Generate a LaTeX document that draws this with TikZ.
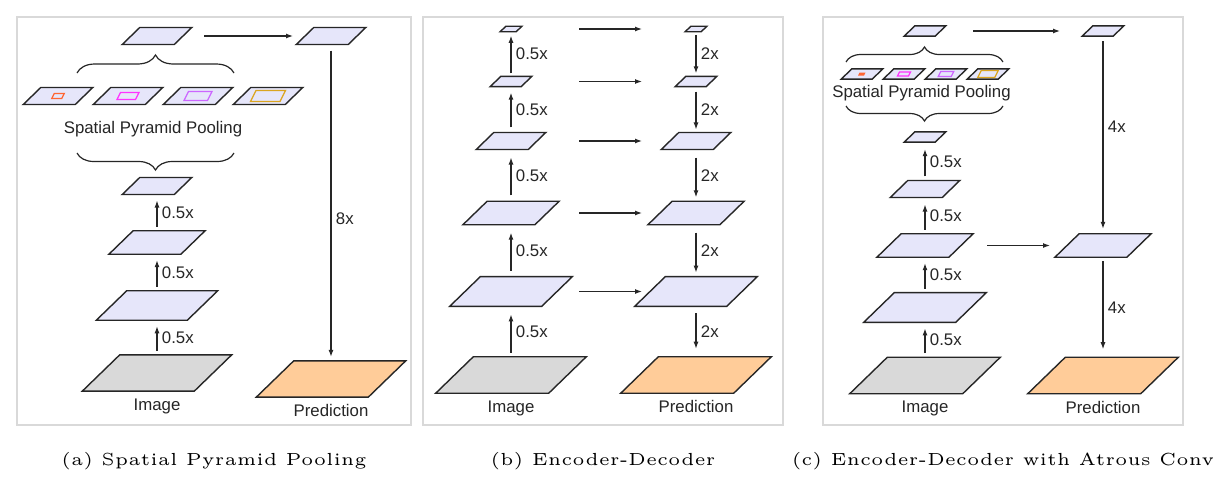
\documentclass[tikz,border=0pt]{standalone}
\usepackage{fontspec}
\setsansfont{Liberation Sans}
\newfontfamily\capfont{lmroman5-regular.otf}[LetterSpace=2]
\usetikzlibrary{arrows.meta}
\usetikzlibrary{calc}
\usetikzlibrary{positioning}
\usetikzlibrary{decorations.pathreplacing}
\definecolor{maplav}{HTML}{E6E6FA}
\definecolor{mapgray}{HTML}{D9D9D9}
\definecolor{mappeach}{HTML}{FFCC99}
\definecolor{poolA}{HTML}{FF6633}
\definecolor{poolB}{HTML}{FF33FF}
\definecolor{poolC}{HTML}{CC66FF}
\definecolor{poolD}{HTML}{DAA520}
\definecolor{framegray}{HTML}{D9D9D9}
\definecolor{ink}{HTML}{262626}
% feature map: [fill]{name}{x}{y}{width}
\newcommand{\fmap}[5][maplav]{%
	\node[inner sep=0pt, minimum width=#5*1.33pt, minimum height=#5*0.32pt] (#2) at (#3,#4) {};
	\filldraw[mapline, fill=#1] (#2.south west) -- ++(#5,0) -- (#2.north east) -- ++(-#5,0) -- cycle;
}
% pooling window inside a map: {map}{colour}{width}{height}
\newcommand{\pool}[4]{%
	\draw[line width=1.3pt, draw=#2] ($(#1)+({-#3/2-#4/4},{#4/2})$) -- ++(#3,0) -- ++({#4/2},{-#4}) -- ++({-#3},0) -- cycle;
}
\tikzset{
	mapline/.style={line width=1.4pt, draw=ink},
	flow/.style={line width=1.2pt, draw=ink, -{Latex[length=7pt,width=5pt]}},
	txt/.style={text=ink, font=\sffamily\fontsize{16.8}{20}\selectfont},
	lbl/.style={txt, right=1pt, midway},
	panel/.style={line width=1.3pt, draw=framegray},
	caption/.style={font=\capfont\fontsize{17.5}{20}\selectfont, text=black},
	brc/.style={decorate, decoration={brace, amplitude=#1}, line width=1.2pt, draw=ink},
}
\begin{document}
\begin{tikzpicture}[x=1pt, y=-1pt]
				\useasboundingbox[fill=white] (0,0) rectangle (1218,482);
				\draw[panel] (17,17) rectangle (411,425);
				\draw[panel] (423,17) rectangle (783,425);
				\draw[panel] (823,17) rectangle (1183,425);
		
				% (a) spatial pyramid pooling
				\fmap{atop}{157}{36}{52}
				\fmap{aout}{331}{36}{52}
				\fmap{sppa1}{58}{96}{52}
				\fmap{sppa2}{128}{96}{52}
				\fmap{sppa3}{198}{96}{52}
				\fmap{sppa4}{268}{96}{52}
				\pool{sppa1}{poolA}{10}{5}
				\pool{sppa2}{poolB}{18.5}{7}
				\pool{sppa3}{poolC}{23.5}{9}
				\pool{sppa4}{poolD}{29.5}{11}
				\fmap{a4}{157}{186}{52}
				\fmap{a3}{157}{242.5}{72}
				\fmap{a2}{157}{305.5}{91}
				\fmap[mapgray]{a1}{157}{373}{112}
				\fmap[mappeach]{apred}{331}{379}{112}
		
				\draw[brc=18pt] (77,73) -- (234,73);
				\draw[brc=17pt] (234,153) -- (77,153);
				\node[txt] (sppa) at (153,129) {Spatial Pyramid Pooling};
		
				\draw[flow, shorten <=4pt, shorten >=6pt] (a1.north) -- (a2.south) node[lbl] {0.5x};
				\draw[flow, shorten <=4pt, shorten >=6pt] (a2.north) -- (a3.south) node[lbl] {0.5x};
				\draw[flow, shorten <=4pt, shorten >=6pt] (a3.north) -- (a4.south) node[lbl] {0.5x};
				\draw[flow, shorten <=47pt, shorten >=38pt] (atop.center) -- (aout.center);
				\draw[flow, shorten <=6pt, shorten >=4pt] (aout.south) -- (apred.north) node[lbl, pos=0.55] {8x};
		
				\node[txt, below=4pt of a1] (imga) {Image};
				\node[txt, below=4pt of apred] (preda) {Prediction};
				\node[caption] (capa) at (214,461) {(a) Spatial Pyramid Pooling};
		
				% (b) encoder-decoder
				\fmap{b5}{511}{29}{16}
				\fmap{b4}{511}{81.5}{31}
				\fmap{b3}{511}{141}{52}
				\fmap{b2}{511}{213}{72}
				\fmap{b1}{511}{291.5}{92}
				\fmap[mapgray]{b0}{511}{375}{113}
				\fmap{r5}{696}{29}{16}
				\fmap{r4}{696}{81.5}{31}
				\fmap{r3}{696}{141}{52}
				\fmap{r2}{696}{213}{72}
				\fmap{r1}{696}{291.5}{92}
				\fmap[mappeach]{bpred}{696}{375}{113}
		
				\draw[flow, shorten <=4pt, shorten >=8pt] (b0.north) -- (b1.south) node[lbl] {0.5x};
				\draw[flow, shorten <=6pt, shorten >=8pt] (b1.north) -- (b2.south) node[lbl] {0.5x};
				\draw[flow, shorten <=6pt, shorten >=8pt] (b2.north) -- (b3.south) node[lbl] {0.5x};
				\draw[flow, shorten <=5pt, shorten >=6pt] (b3.north) -- (b4.south) node[lbl] {0.5x};
				\draw[flow, shorten <=3pt, shorten >=4pt] (b4.north) -- (b5.south) node[lbl] {0.5x};
		
				\draw[flow, shorten <=3pt, shorten >=3pt] (r5.south) -- (r4.north) node[lbl] {2x};
				\draw[flow, shorten <=5pt, shorten >=3pt] (r4.south) -- (r3.north) node[lbl] {2x};
				\draw[flow, shorten <=8pt, shorten >=4pt] (r3.south) -- (r2.north) node[lbl] {2x};
				\draw[flow, shorten <=8pt, shorten >=4pt] (r2.south) -- (r1.north) node[lbl] {2x};
				\draw[flow, shorten <=7pt, shorten >=8pt] (r1.south) -- (bpred.north) node[lbl] {2x};
		
				\draw[flow, shorten <=68pt, shorten >=54pt] (b5.center) -- (r5.center);
				\draw[flow, shorten <=68pt, shorten >=54pt] (b4.center) -- (r4.center);
				\draw[flow, shorten <=68pt, shorten >=54pt] (b3.center) -- (r3.center);
				\draw[flow, shorten <=68pt, shorten >=54pt] (b2.center) -- (r2.center);
				\draw[flow, shorten <=68pt, shorten >=54pt] (b1.center) -- (r1.center);
		
				\node[txt, below=4pt of b0] (imgb) {Image};
				\node[txt, below=4pt of bpred] (predb) {Prediction};
				\node[caption] (capb) at (603,461) {(b) Encoder-Decoder};
		
				% (c) encoder-decoder with atrous conv
				\fmap{ctop}{925}{31}{31}
				\fmap{cout}{1103}{31}{31}
				\fmap{sppc1}{862}{74}{31}
				\fmap{sppc2}{904}{74}{31}
				\fmap{sppc3}{946}{74}{31}
				\fmap{sppc4}{988}{74}{31}
				\fill[poolA] ($(sppc1)+(-4,1.5)$) -- ++(6,0) -- ++(1.5,-3) -- ++(-6,0) -- cycle;
				\pool{sppc2}{poolB}{11}{4}
				\pool{sppc3}{poolC}{13}{5}
				\pool{sppc4}{poolD}{17}{7}
				\fmap{c4}{925}{137}{31}
				\fmap{c3}{925}{189}{52}
				\fmap{c2}{925}{245.5}{72}
				\fmap{cmid}{1103}{245.5}{72}
				\fmap{c1}{925}{307.5}{92}
				\fmap[mapgray]{c0}{925}{375.5}{113}
				\fmap[mappeach]{cpred}{1103}{375.5}{113}
		
				\draw[brc=15pt] (846,62) -- (1003,62);
				\draw[brc=15pt] (1003,106) -- (846,106);
				\node[txt] (sppc) at (921.5,93) {Spatial Pyramid Pooling};
		
				\draw[flow, shorten <=4pt, shorten >=6pt] (c0.north) -- (c1.south) node[lbl] {0.5x};
				\draw[flow, shorten <=4pt, shorten >=6pt] (c1.north) -- (c2.south) node[lbl] {0.5x};
				\draw[flow, shorten <=4pt, shorten >=7pt] (c2.north) -- (c3.south) node[lbl] {0.5x};
				\draw[flow, shorten <=4pt, shorten >=7pt] (c3.north) -- (c4.south) node[lbl] {0.5x};
				\draw[flow, shorten <=48pt, shorten >=43pt] (ctop.center) -- (cout.center);
				\draw[flow, shorten <=62pt, shorten >=53pt] (c2.center) -- (cmid.center);
				\draw[flow, shorten <=5pt, shorten >=5pt] (cout.south) -- (cmid.north) node[lbl, pos=0.46] {4x};
				\draw[flow, shorten <=4pt, shorten >=8pt] (cmid.south) -- (cpred.north) node[lbl] {4x};
		
				\node[txt, below=4pt of c0] (imgc) {Image};
				\node[txt, below=4pt of cpred] (predc) {Prediction};
				\node[caption] (capc) at (1003,461) {(c) Encoder-Decoder with Atrous Conv};
			\end{tikzpicture}
\end{document}
